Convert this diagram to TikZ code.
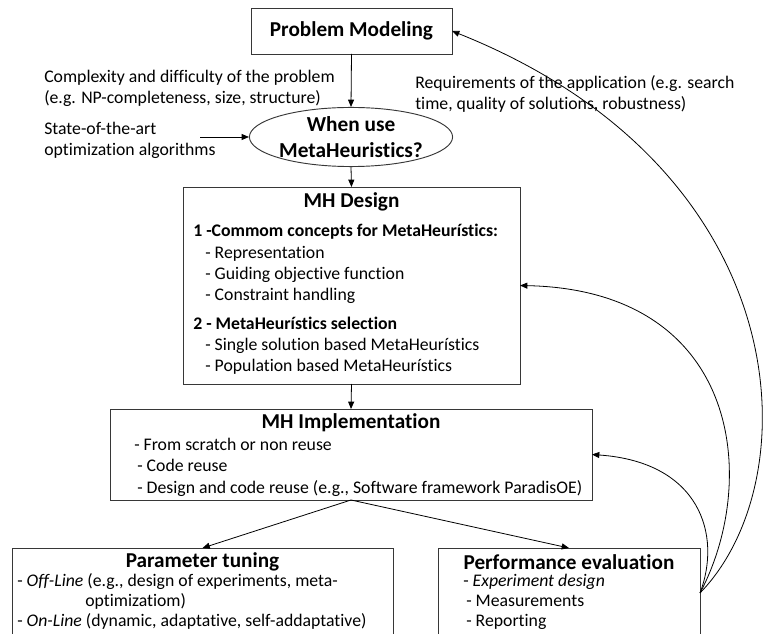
\documentclass[tikz,border=0pt]{standalone}
\usepackage{fontspec}
\setmainfont{Carlito}[Ligatures={TeX,NoCommon}]
\usetikzlibrary{arrows.meta,shapes.geometric}
\definecolor{frameclr}{RGB}{55,55,55}
\tikzset{
  boxnd/.style={draw=frameclr, line width=0.7pt, inner sep=0pt, outer sep=0pt, anchor=north west},
  ttl/.style={font=\fontsize{15.9}{19}\selectfont\bfseries, inner sep=0pt},
  txt/.style={font=\fontsize{13.3}{15.75}\selectfont, inner sep=0pt, anchor=west, align=left},
  ln/.style={txt, text height=9.5pt, text depth=3pt},
  lnb/.style={ln, font=\fontsize{13.3}{15.75}\selectfont\bfseries},
  flow/.style={-{Triangle[length=5.5pt,width=4.5pt]}, line width=0.6pt},
}

\begin{document}
\begin{tikzpicture}[x=0.75pt, y=-0.75pt]
    \useasboundingbox (0,0) rectangle (763,634);
    \clip (0,0) rectangle (763,634);
    % problem modeling and the question
    \node[boxnd, minimum width=150.75pt, minimum height=34.5pt, font=\fontsize{15.9}{19}\selectfont\bfseries] (pm) at (251,8) {Problem Modeling};
    \node[draw=frameclr, line width=0.7pt, ellipse, minimum width=150.75pt, minimum height=42pt, inner sep=0pt,
          align=center, font=\fontsize{16}{20}\selectfont\bfseries] (ell) at (351,137) {When use\\MetaHeuristics?};
    \node[txt] (cplx) at (44,88.5) {Complexity and difficulty of the problem\\(e.g. NP-completeness, size, structure)};
    \node[txt] (soa) at (44,140.5) {State-of-the-art\\optimization algorithms};
    \coordinate (soaend) at (200,137);
    \node[txt] (req) at (415,94) {Requirements of the application (e.g. search\\time, quality of solutions, robustness)};
    % MH design
    \node[boxnd, minimum width=252.75pt, minimum height=147.75pt] (mhd) at (183,187) {};
    \node[ttl] (mhdt) at (351.5,202) {MH Design};
    \node[lnb] (mhd1) at (193,232) {1 -Commom concepts for MetaHeurístics:};
    \node[ln] (mhd1a) at (205,254) {- Representation};
    \node[ln] (mhd1b) at (205,275) {- Guiding objective function};
    \node[ln] (mhd1c) at (205,296) {- Constraint handling};
    \node[lnb] (mhd2) at (193,325) {2 - MetaHeurístics selection};
    \node[ln] (mhd2a) at (205,346) {- Single solution based MetaHeurístics};
    \node[ln] (mhd2b) at (205,367) {- Population based MetaHeurístics};
    % MH implementation
    \node[boxnd, minimum width=361.5pt, minimum height=68.25pt] (mhi) at (110,409) {};
    \node[ttl] (mhit) at (351,423) {MH Implementation};
    \node[ln] (mhia) at (134,446) {- From scratch or non reuse};
    \node[ln] (mhib) at (137,467) {- Code reuse};
    \node[ln] (mhic) at (137,489) {- Design and code reuse (e.g., Software framework ParadisOE)};
    % parameter tuning
    \node[boxnd, minimum width=285.75pt, minimum height=67.5pt] (pt) at (12,548) {};
    \node[ttl] (ptt) at (202.5,562) {Parameter tuning};
    \node[ln] (pta) at (17,582) {- \textit{Off-Line} (e.g., design of experiments, meta-};
    \node[ln] (ptb) at (85,602) {optimizatiom)};
    \node[ln] (ptc) at (17,622) {- \textit{On-Line} (dynamic, adaptative, self-addaptative)};
    % performance evaluation
    \node[boxnd, minimum width=196.5pt, minimum height=67.5pt] (pe) at (438,548) {};
    \node[ttl] (pet) at (569,562) {Performance evaluation};
    \node[ln] (pea) at (463,582) {- \textit{Experiment design}};
    \node[ln] (peb) at (466,602) {- Measurements};
    \node[ln] (pec) at (466,622) {- Reporting};
    % flow
    \draw[flow] (pm.south) -- (ell.north);
    \draw[flow] (soaend) -- (ell.west);
    \draw[flow] (ell.south) -- (mhd.north);
    \draw[flow] (mhd.south) -- (mhi.north);
    \draw[flow] (mhi.south) -- (pt.north);
    \draw[flow] (mhi.south) -- (pe.north);
    % feedback
    \draw[flow] (pe.east) .. controls (810,480) and (800,170) .. (pm.east);
    \draw[flow] (pe.east) .. controls (760,480) and (740,290) .. (mhd.east);
    \draw[flow] (pe.east) .. controls (722,535) and (700,462) .. (mhi.east);
\end{tikzpicture}
\end{document}
